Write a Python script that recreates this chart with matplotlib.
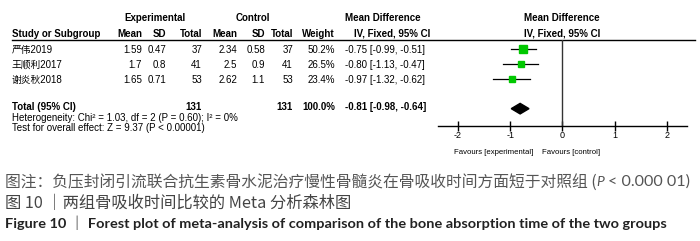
import numpy as np
import matplotlib
matplotlib.use('Agg')
import matplotlib.pyplot as plt

plt.rcParams['font.family'] = ['Liberation Sans Narrow', 'Liberation Sans', 'Noto Sans CJK SC', 'DejaVu Sans']

# data
studies = ['严伟2019', '王顺利2017', '谢炎秋2018']
exp_mean = [1.59, 1.7, 1.65]
exp_sd = [0.47, 0.8, 0.71]
exp_n = [37, 41, 53]
ctl_mean = [2.34, 2.5, 2.62]
ctl_sd = [0.58, 0.9, 1.1]
ctl_n = [37, 41, 53]
weight = [50.2, 26.5, 23.4]
md = [-0.75, -0.80, -0.97]
ci_lo = [-0.99, -1.13, -1.32]
ci_hi = [-0.51, -0.47, -0.62]
tot_md, tot_lo, tot_hi = -0.81, -0.98, -0.64
tot_weight = 100.0
xticks = [-2, -1, 0, 1, 2]

fig = plt.figure(figsize=(7, 2.41), dpi=100)
ax0 = fig.add_axes([0, 0, 1, 1])
ax0.set_xlim(0, 700)
ax0.set_ylim(241, 0)
ax0.axis('off')
renderer = fig.canvas.get_renderer()

fs = 7
row_y = [50, 65, 80]

# header
ax0.text(155, 18, 'Experimental', fontsize=fs, fontweight='bold', ha='center', va='center')
ax0.text(253, 18, 'Control', fontsize=fs, fontweight='bold', ha='center', va='center')
ax0.text(383, 18, 'Mean Difference', fontsize=fs, fontweight='bold', ha='center', va='center')
ax0.text(562, 18, 'Mean Difference', fontsize=fs, fontweight='bold', ha='center', va='center')
ax0.text(12, 34, 'Study or Subgroup', fontsize=fs, fontweight='bold', ha='left', va='center')
cols = [142, 166, 202, 237, 265, 293, 335]
heads = ['Mean', 'SD', 'Total', 'Mean', 'SD', 'Total', 'Weight']
for cx, h in zip(cols, heads):
    ax0.text(cx, 34, h, fontsize=fs, fontweight='bold', ha='right', va='center')
ax0.text(392, 34, 'IV, Fixed, 95% CI', fontsize=fs, fontweight='bold', ha='center', va='center')
ax0.text(562, 34, 'IV, Fixed, 95% CI', fontsize=fs, fontweight='bold', ha='center', va='center')
ax0.plot([12, 695], [40, 40], color='black', lw=1)

# rows
for i in range(len(studies)):
    y = row_y[i]
    ax0.text(12, y, studies[i], fontsize=fs, ha='left', va='center')
    vals = ['%g' % exp_mean[i], '%g' % exp_sd[i], '%d' % exp_n[i],
            '%g' % ctl_mean[i], '%g' % ctl_sd[i], '%d' % ctl_n[i], '%.1f%%' % weight[i]]
    for cx, v in zip(cols, vals):
        ax0.text(cx, y, v, fontsize=fs, ha='right', va='center')
    ax0.text(345, y, '%.2f [%.2f, %.2f]' % (md[i], ci_lo[i], ci_hi[i]), fontsize=fs, ha='left', va='center')

ty = 107
ax0.text(12, ty, 'Total (95% CI)', fontsize=fs, fontweight='bold', ha='left', va='center')
ax0.text(202, ty, '%d' % sum(exp_n), fontsize=fs, fontweight='bold', ha='right', va='center')
ax0.text(293, ty, '%d' % sum(ctl_n), fontsize=fs, fontweight='bold', ha='right', va='center')
ax0.text(335, ty, '%.1f%%' % tot_weight, fontsize=fs, fontweight='bold', ha='right', va='center')
ax0.text(345, ty, '%.2f [%.2f, %.2f]' % (tot_md, tot_lo, tot_hi), fontsize=fs, fontweight='bold', ha='left', va='center')
ax0.text(12, 118, 'Heterogeneity: Chi² = 1.03, df = 2 (P = 0.60); I² = 0%', fontsize=fs, ha='left', va='center')
ax0.text(12, 128, 'Test for overall effect: Z = 9.37 (P < 0.00001)', fontsize=fs, ha='left', va='center')

# forest panel
ax = fig.add_axes([438 / 700, (241 - 126) / 241, (687 - 438) / 700, (126 - 40) / 241])
ax.set_xlim(-2.38, 2.38)
ax.set_ylim(5.1, -0.6)
for s in ['top', 'left', 'right']:
    ax.spines[s].set_visible(False)
ax.spines['bottom'].set_linewidth(1)
ax.axvline(0, color='#333333', lw=1)
ax.set_yticks([])
ax.set_xticks(xticks)
ax.set_xticklabels(['%d' % t for t in xticks], fontsize=6.5)
ax.tick_params(axis='x', direction='inout', length=7, width=1, pad=0)
ax.patch.set_visible(False)

sizes = np.sqrt(np.array(weight) / max(weight)) * 6
for i in range(len(studies)):
    ax.plot([ci_lo[i], ci_hi[i]], [i, i], color='black', lw=0.9)
    ax.plot(md[i], i, marker='s', color='#00C800', markersize=sizes[i], mec='#00C800')
yd = 3.95
dh = 0.35
ax.fill([tot_lo, tot_md, tot_hi, tot_md], [yd, yd - dh, yd, yd + dh], color='black')

ax0.text(533, 152, 'Favours [experimental]', fontsize=5.6, ha='right', va='center')
ax0.text(542, 152, 'Favours [control]', fontsize=5.6, ha='left', va='center')


# captions: font size chosen so each line ends where the reference does
def fit_text(x, y, s, x_end, size0, **kw):
    t = ax0.text(x, y, s, fontsize=size0, ha='left', va='center', **kw)
    w = t.get_window_extent(renderer).width
    t.set_fontsize(size0 * (x_end - x) / w)
    return t


cap = ['Noto Sans CJK SC', 'DejaVu Sans']
lat = ['Lato', 'DejaVu Sans']
t1 = fit_text(5, 182, '图注：负压封闭引流联合抗生素骨水泥治疗慢性骨髓炎在骨吸收时间方面短于对照组 (', 597, 10,
              family=cap, color='#555555')
t2 = ax0.text(t1.get_window_extent(renderer).x1, 182, 'P', fontsize=10, family=lat, style='italic',
              color='#555555', ha='left', va='center')
x2 = t2.get_window_extent(renderer).x1
fit_text(x2 + 4, 182, '< 0.000 01)', 690, 10, family=lat, color='#555555')
fit_text(5, 203, '图 10 ｜两组骨吸收时间比较的 Meta 分析森林图', 352, 10, family=cap, color='#444444')
fit_text(5, 223, 'Figure 10 ｜ Forest plot of meta-analysis of comparison of the bone absorption time of the two groups',
         665, 9, family=['Lato', 'Noto Sans CJK SC'], fontweight='bold', color='#222222')

fig.savefig('out.png', dpi=100)
